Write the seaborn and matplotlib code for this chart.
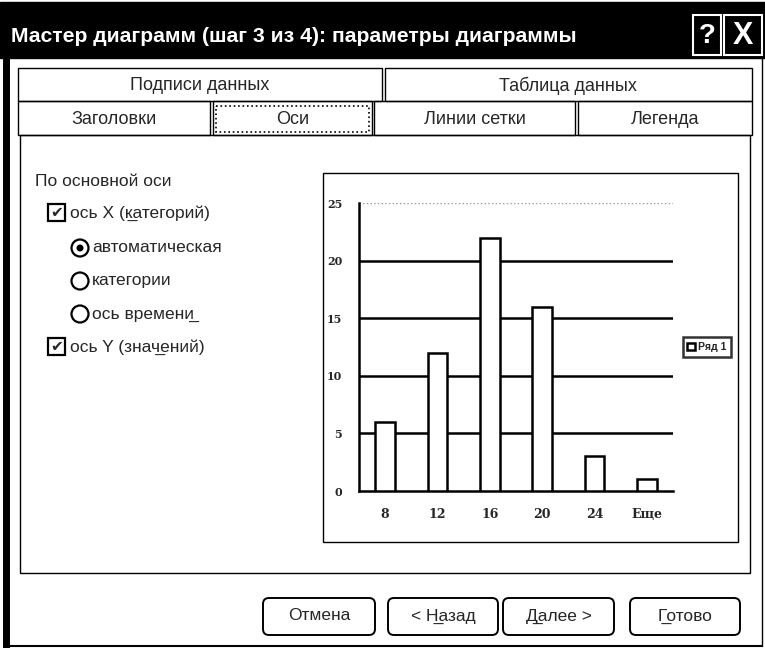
import matplotlib
matplotlib.use('Agg')
import matplotlib.pyplot as plt
import matplotlib.patches as mpatches
import seaborn as sns

# chart data
categories = ['8', '12', '16', '20', '24', 'Еще']
values = [6, 12, 22, 16, 3, 1]
y_ticks = [0, 5, 10, 15, 20, 25]
series_name = 'Ряд 1'

# dialog texts
title = 'Мастер диаграмм (шаг 3 из 4): параметры диаграммы'
tabs_top = ['Подписи данных', 'Таблица данных']
tabs_bottom = ['Заголовки', 'Оси', 'Линии сетки', 'Легенда']
options_header = 'По основной оси'
buttons = ['Отмена', '< Н\u0332азад', 'Д\u0332алее >', 'Г\u0332отово']

sns.set_style('white')
plt.rcParams['font.family'] = ['Liberation Sans', 'DejaVu Sans']

W, H = 765, 648
fig = plt.figure(figsize=(W / 100, H / 100), dpi=100)

# background axes in pixel coordinates for the dialog frame
bg = fig.add_axes([0, 0, 1, 1])
bg.set_xlim(0, W)
bg.set_ylim(H, 0)
bg.axis('off')

def rect(x0, y0, x1, y1, **kw):
    kw.setdefault('fill', False)
    kw.setdefault('edgecolor', 'black')
    kw.setdefault('linewidth', 1)
    bg.add_patch(mpatches.Rectangle((x0, y0), x1 - x0, y1 - y0, **kw))

# title bar
rect(0, 2, W, 58, fill=True, facecolor='black')
bg.text(11, 36, title, color='white', fontsize=15.2, fontweight='bold', va='center')
rect(693, 15, 721, 55, edgecolor='white', linewidth=1.5)
bg.text(707, 36, '?', color='white', fontsize=20, fontweight='bold', ha='center', va='center')
rect(724, 15, 762, 55, edgecolor='white', linewidth=1.5)
bg.text(743, 36, 'X', color='white', fontsize=22, fontweight='bold', ha='center', va='center')

# outer dialog border
bg.plot([6, 6], [58, H], color='black', lw=5)
bg.plot([762, 762], [58, H - 2], color='black', lw=1)
bg.plot([6, 762], [H - 2, H - 2], color='black', lw=1.5)

# tabs
rect(18, 68, 382, 101)
rect(385, 68, 752, 101)
bg.text(200, 86, tabs_top[0], fontsize=13, ha='center', va='center')
bg.text(568, 86, tabs_top[1], fontsize=13, ha='center', va='center')
tab_x = [(18, 210), (213, 372), (374, 575), (578, 752)]
for (x0, x1), lab in zip(tab_x, tabs_bottom):
    rect(x0, 101, x1, 135)
    bg.text((x0 + x1) / 2, 119, lab, fontsize=13, ha='center', va='center')
rect(216, 106, 369, 132, linestyle=':', linewidth=1.2)

# panel
rect(20, 135, 750, 573)

# left options
bg.text(35, 181, options_header, fontsize=12.5, va='center')
opts = [
    ('check', 48, 213, 'ось X (к\u0332атегорий)'),
    ('radio', 72, 248, 'автоматическая'),
    ('radio', 72, 281, 'категории'),
    ('radio', 72, 314, 'ось времени\u0332'),
    ('check', 48, 347, 'ось Y (знач\u0332ений)'),
]
for i, (kind, x, y, lab) in enumerate(opts):
    if kind == 'check':
        rect(x, y - 9, x + 17, y + 8, linewidth=1.6)
        bg.text(x + 8.5, y, '\u2714', fontsize=11, ha='center', va='center', family='DejaVu Sans')
        bg.text(x + 22, y, lab, fontsize=12.5, va='center')
    else:
        bg.add_patch(mpatches.Circle((x + 8, y), 8.5, fill=False, edgecolor='black', lw=1.6))
        if i == 1:
            bg.add_patch(mpatches.Circle((x + 8, y), 2.8, color='black'))
        bg.text(x + 20, y, lab, fontsize=12.5, va='center')

# chart frame
rect(323, 173, 738, 542, linewidth=1)

# buttons
btn_x = [(263, 375), (388, 498), (503, 614), (630, 740)]
for (x0, x1), lab in zip(btn_x, buttons):
    bg.add_patch(mpatches.FancyBboxPatch((x0, 598), x1 - x0, 37,
                 boxstyle='round,pad=0,rounding_size=6',
                 fill=False, edgecolor='black', lw=1.4))
    bg.text((x0 + x1) / 2, 616, lab, fontsize=12.5, ha='center', va='center')

# the chart itself
ax = fig.add_axes([359 / W, 1 - 491 / H, 314 / W, 288 / H])
sns.barplot(x=categories, y=values, color='white', edgecolor='black',
            linewidth=1.8, width=0.37, ax=ax, label=series_name, zorder=3)
ax.set_xlim(-0.5, len(categories) - 0.5)
ax.set_ylim(y_ticks[0], y_ticks[-1])
ax.set_yticks(y_ticks)
for t in y_ticks[1:-1]:
    ax.axhline(t, color='black', lw=1.8, zorder=1)
ax.axhline(y_ticks[-1], color='0.6', lw=1, ls=':', zorder=1)
ax.set_xticks([i - 0.5 for i in range(len(categories) + 1)], minor=True)
ax.tick_params(axis='x', which='major', length=0, pad=12, labelsize=9)
ax.tick_params(axis='x', which='minor', length=4, width=1.4, direction='out', color='black')
ax.tick_params(axis='y', length=4, width=1.4, direction='out', color='black', labelsize=8, pad=8)
for lab in ax.get_xticklabels() + ax.get_yticklabels():
    lab.set_family('DejaVu Serif')
    lab.set_fontweight('bold')
ax.set_xlabel('')
ax.set_ylabel('')
for s in ['top', 'right']:
    ax.spines[s].set_visible(False)
for s in ['left', 'bottom']:
    ax.spines[s].set_color('black')
    ax.spines[s].set_linewidth(1.8)

leg = ax.legend(loc='center', bbox_to_anchor=(707 / W, 1 - 347 / H),
                bbox_transform=fig.transFigure, fontsize=7.5, frameon=True,
                fancybox=False, handlelength=0.7, handleheight=0.7,
                handletextpad=0.35, borderpad=0.45)
leg.get_frame().set_edgecolor('black')
leg.get_frame().set_linewidth(1.8)
for t in leg.get_texts():
    t.set_fontweight('bold')

fig.savefig('out.png', dpi=100)
